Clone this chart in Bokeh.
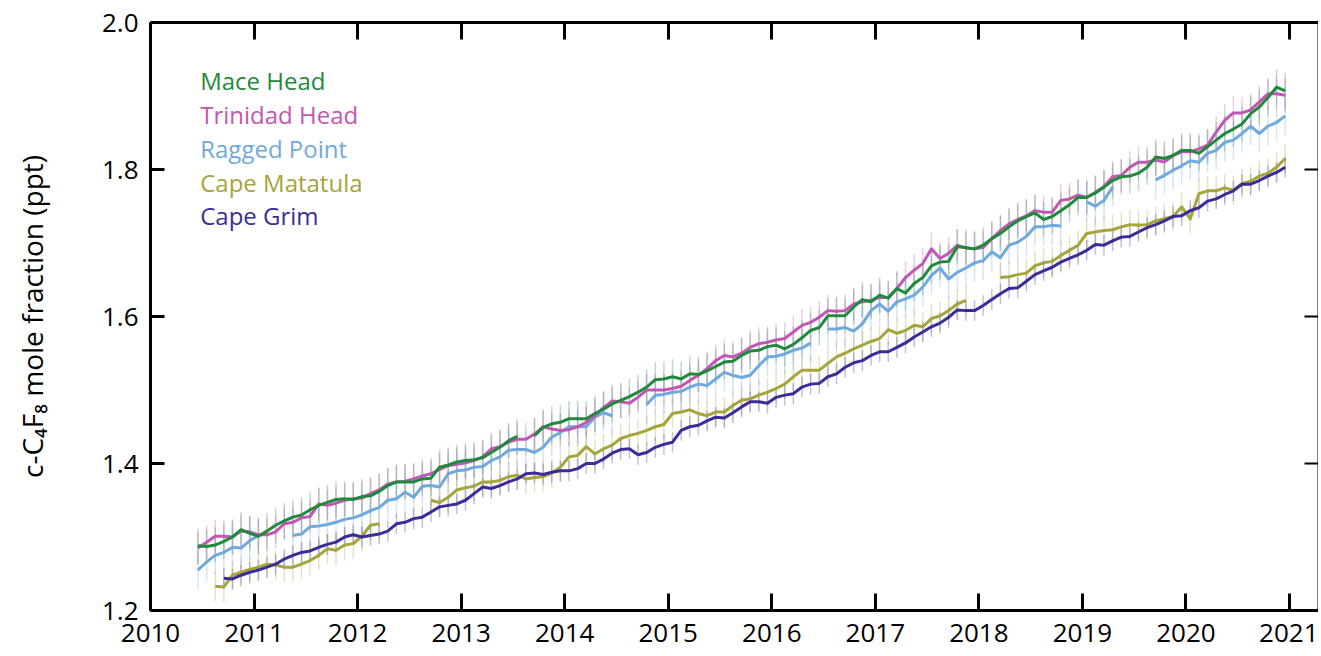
import math
from bokeh.plotting import figure
from bokeh.models import (LinearAxis, FixedTicker, NumeralTickFormatter, Range1d,
                          Label, ColumnDataSource)
from bokeh.embed import file_html
from bokeh.resources import INLINE

NaN = float("nan")

# monthly time axis: Jun 2010 .. Dec 2020 (decimal years, mid-month)
MONTHS = [2010 + (m + 0.5) / 12 for m in range(5, 132)]

MACE_HEAD = [
    1.288, 1.287, 1.289, 1.294, 1.300, 1.310, 1.305, 1.301, 1.308, 1.316,
    1.322, 1.327, 1.330, 1.337, 1.343, 1.347, 1.351, 1.352, 1.351, 1.355,
    1.356, 1.362, 1.370, 1.375, 1.375, 1.375, 1.379, 1.380, 1.395, 1.398,
    1.402, 1.404, 1.405, 1.408, 1.415, 1.422, 1.431, 1.437, NaN, 1.438,
    1.449, 1.454, 1.456, 1.461, 1.461, 1.461, 1.468, 1.474, 1.481, 1.486,
    1.491, 1.497, 1.504, 1.514, 1.515, 1.518, 1.515, 1.522, 1.521, 1.526,
    1.532, 1.538, 1.539, 1.547, 1.553, 1.554, 1.559, 1.561, 1.556, 1.562,
    1.571, 1.581, 1.585, 1.601, 1.601, 1.601, 1.613, 1.623, 1.620, 1.629,
    1.625, 1.638, 1.632, 1.645, 1.653, 1.669, 1.674, 1.675, 1.695, 1.694,
    1.692, 1.697, 1.706, 1.713, 1.722, 1.730, 1.736, 1.741, 1.732, 1.736,
    1.744, 1.752, 1.762, 1.762, 1.768, 1.776, 1.785, 1.790, 1.791, 1.795,
    1.803, 1.817, 1.815, 1.819, 1.826, 1.826, 1.822, 1.831, 1.840, 1.849,
    1.855, 1.862, 1.876, 1.885, 1.898, 1.912, 1.907,
]

TRINIDAD_HEAD = [
    1.285, 1.293, 1.301, 1.301, 1.300, 1.308, 1.307, 1.303, 1.303, 1.307,
    1.318, 1.320, 1.326, 1.328, 1.345, 1.343, 1.346, 1.350, 1.352, 1.353,
    1.359, 1.364, 1.372, 1.375, 1.376, 1.379, 1.383, 1.386, 1.392, 1.397,
    1.399, 1.401, 1.404, 1.409, 1.420, 1.423, 1.429, 1.433, 1.433, 1.440,
    1.450, 1.447, 1.445, 1.446, 1.450, 1.456, 1.465, 1.476, 1.485, 1.484,
    1.482, 1.490, 1.500, 1.500, 1.500, 1.502, 1.505, 1.513, 1.520, 1.529,
    1.540, 1.547, 1.545, 1.550, 1.558, 1.563, 1.565, 1.568, 1.570, 1.579,
    1.588, 1.592, 1.599, 1.608, 1.607, 1.608, 1.617, 1.620, 1.622, 1.626,
    1.626, 1.638, 1.653, 1.663, 1.672, 1.692, 1.679, 1.686, 1.697, 1.693,
    1.692, 1.694, 1.706, 1.717, 1.726, 1.732, 1.737, 1.744, 1.742, 1.742,
    1.758, 1.760, 1.765, 1.762, 1.769, 1.777, 1.790, 1.792, 1.803, 1.810,
    1.810, 1.813, 1.810, 1.819, 1.824, 1.824, 1.828, 1.833, 1.851, 1.867,
    1.877, 1.877, 1.881, 1.892, 1.903, 1.903, 1.901,
]

RAGGED_POINT = [
    1.255, 1.266, 1.275, 1.279, 1.286, 1.285, 1.295, 1.302, NaN, NaN,
    NaN, 1.302, 1.304, 1.314, 1.315, 1.317, 1.320, 1.324, 1.326, 1.330,
    1.336, 1.340, 1.350, 1.352, 1.361, 1.354, 1.369, 1.370, 1.368, 1.386,
    1.390, 1.391, 1.395, 1.396, 1.404, 1.409, 1.418, 1.419, 1.419, 1.415,
    1.422, 1.436, 1.442, 1.450, 1.450, 1.450, 1.463, 1.469, 1.465, NaN,
    NaN, NaN, 1.480, 1.493, 1.494, 1.497, 1.498, 1.504, 1.508, 1.506,
    1.515, 1.524, 1.520, 1.517, 1.520, 1.533, 1.545, 1.546, 1.549, 1.554,
    1.557, 1.564, NaN, 1.583, 1.583, 1.585, 1.580, 1.590, 1.608, 1.617,
    1.607, 1.620, 1.624, 1.629, 1.640, 1.656, 1.666, 1.651, 1.660, 1.666,
    1.673, 1.676, 1.688, 1.680, 1.697, 1.701, 1.709, 1.722, 1.722, 1.724,
    1.723, NaN, NaN, 1.756, 1.750, 1.758, 1.776, NaN, NaN, NaN,
    NaN, 1.786, 1.792, 1.799, 1.805, 1.812, 1.810, 1.822, 1.826, 1.837,
    1.840, 1.849, 1.859, 1.849, 1.859, 1.864, 1.873,
]

CAPE_MATATULA = [
    NaN, NaN, 1.233, 1.232, 1.248, 1.252, 1.256, 1.259, 1.263, 1.262,
    1.259, 1.259, 1.263, 1.268, 1.275, 1.284, 1.282, 1.289, 1.291, 1.301,
    1.316, 1.318, NaN, NaN, NaN, NaN, NaN, 1.350, 1.347, 1.354,
    1.364, 1.367, 1.369, 1.375, 1.375, 1.377, 1.382, 1.384, 1.379, 1.381,
    1.382, 1.387, 1.395, 1.409, 1.411, 1.423, 1.413, 1.420, 1.425, 1.434,
    1.438, 1.441, 1.445, 1.450, 1.453, 1.468, 1.470, 1.473, 1.468, 1.465,
    1.470, 1.470, 1.479, 1.486, 1.488, 1.493, 1.497, 1.502, 1.508, 1.518,
    1.527, 1.527, 1.527, 1.536, 1.545, 1.550, 1.556, 1.561, 1.566, 1.570,
    1.582, 1.577, 1.581, 1.588, 1.586, 1.597, 1.601, 1.608, 1.617, 1.622,
    NaN, NaN, NaN, 1.653, 1.654, 1.657, 1.659, 1.669, 1.673, 1.675,
    1.683, 1.690, 1.697, 1.713, 1.715, 1.717, 1.718, 1.722, 1.725, 1.724,
    1.725, 1.730, 1.733, 1.736, 1.749, 1.733, 1.767, 1.771, 1.771, 1.775,
    1.772, 1.781, 1.784, 1.791, 1.795, 1.803, 1.815,
]

CAPE_GRIM = [
    NaN, NaN, NaN, 1.244, 1.243, 1.248, 1.252, 1.255, 1.259, 1.263,
    1.270, 1.275, 1.279, 1.281, 1.286, 1.290, 1.293, 1.300, 1.303, 1.300,
    1.302, 1.304, 1.308, 1.318, 1.320, 1.325, 1.327, 1.334, 1.341, 1.343,
    1.345, 1.350, 1.359, 1.368, 1.366, 1.370, 1.375, 1.379, 1.386, 1.387,
    1.385, 1.388, 1.390, 1.390, 1.393, 1.400, 1.400, 1.406, 1.414, 1.419,
    1.420, 1.412, 1.415, 1.422, 1.426, 1.429, 1.445, 1.450, 1.452, 1.458,
    1.463, 1.462, 1.469, 1.477, 1.484, 1.484, 1.482, 1.490, 1.493, 1.495,
    1.504, 1.508, 1.509, 1.518, 1.522, 1.531, 1.537, 1.540, 1.547, 1.552,
    1.552, 1.558, 1.564, 1.572, 1.579, 1.586, 1.591, 1.599, 1.609, 1.608,
    1.608, 1.615, 1.623, 1.631, 1.638, 1.639, 1.648, 1.657, 1.662, 1.667,
    1.674, 1.679, 1.684, 1.690, 1.698, 1.697, 1.703, 1.708, 1.709, 1.715,
    1.721, 1.725, 1.730, 1.736, 1.737, 1.744, 1.748, 1.757, 1.760, 1.766,
    1.771, 1.780, 1.780, 1.785, 1.791, 1.796, 1.803,
]

STATIONS = ["Mace Head", "Trinidad Head", "Ragged Point", "Cape Matatula", "Cape Grim"]
SERIES = {
    "Mace Head": MACE_HEAD,
    "Trinidad Head": TRINIDAD_HEAD,
    "Ragged Point": RAGGED_POINT,
    "Cape Matatula": CAPE_MATATULA,
    "Cape Grim": CAPE_GRIM,
}
# typical half-length of the monthly uncertainty bars (ppt)
UNCERTAINTY = {
    "Mace Head": 0.024,
    "Trinidad Head": 0.022,
    "Ragged Point": 0.026,
    "Cape Matatula": 0.020,
    "Cape Grim": 0.014,
}
COLORS = {
    "Mace Head": "#1f8a3c",
    "Trinidad Head": "#c257b3",
    "Ragged Point": "#72a9dd",
    "Cape Matatula": "#a6a43a",
    "Cape Grim": "#3b2c97",
}
X_TICKS = list(range(2010, 2022))
Y_TICKS = [1.2, 1.4, 1.6, 1.8, 2.0]
Y_LABEL = "c-C\u2084F\u2088 mole fraction (ppt)"

FONT = "Open Sans"

p = figure(frame_width=1168, frame_height=588,
           x_range=Range1d(2010, 2021.28), y_range=Range1d(1.2, 2.0),
           output_backend="svg", toolbar_location=None,
           x_axis_location=None, y_axis_location=None,
           min_border_left=150, min_border_top=22, min_border_bottom=44,
           min_border_right=0, outline_line_color=None,
           background_fill_color="white", border_fill_color="white")
p.xgrid.visible = False
p.ygrid.visible = False


def style_axis(ax, tick_len, lw=3, labels=True):
    ax.axis_line_width = lw
    ax.axis_line_color = "black"
    ax.major_tick_in = tick_len
    ax.major_tick_out = 0
    ax.major_tick_line_width = lw
    ax.major_tick_line_color = "black"
    ax.minor_tick_line_color = None
    if labels:
        ax.major_label_text_font = FONT
        ax.major_label_text_font_size = "26px"
        ax.major_label_text_color = "black"
    else:
        ax.major_label_text_color = None
        ax.major_label_standoff = 0


bottom = LinearAxis(ticker=FixedTicker(ticks=X_TICKS), formatter=NumeralTickFormatter(format="0"))
style_axis(bottom, 17)
bottom.major_label_standoff = 13
top = LinearAxis(ticker=FixedTicker(ticks=X_TICKS))
style_axis(top, 17, labels=False)
left = LinearAxis(ticker=FixedTicker(ticks=Y_TICKS), formatter=NumeralTickFormatter(format="0.0"))
style_axis(left, 14)
left.major_label_standoff = 12
left.axis_label = Y_LABEL
left.axis_label_text_font = FONT
left.axis_label_text_font_style = "normal"
left.axis_label_text_font_size = "28px"
left.axis_label_text_color = "black"
left.axis_label_standoff = 48
right = LinearAxis(ticker=FixedTicker(ticks=Y_TICKS))
style_axis(right, 14, lw=2, labels=False)

p.add_layout(bottom, "below")
p.add_layout(top, "above")
p.add_layout(left, "left")
p.add_layout(right, "right")

# uncertainty bars
for name in STATIONS:
    vals = SERIES[name]
    u = UNCERTAINTY[name]
    xs = [t for t, v in zip(MONTHS, vals) if not math.isnan(v)]
    lo = [v - u for v in vals if not math.isnan(v)]
    hi = [v + u for v in vals if not math.isnan(v)]
    src = ColumnDataSource(dict(x=xs, y0=lo, y1=hi))
    p.segment(x0="x", y0="y0", x1="x", y1="y1", source=src,
              line_color=COLORS[name], line_alpha=0.3, line_width=1.5)

# lines (drawing order so Mace Head lies above Trinidad Head, Cape Grim above Cape Matatula)
for name in ["Ragged Point", "Trinidad Head", "Mace Head", "Cape Matatula", "Cape Grim"]:
    src = ColumnDataSource(dict(x=MONTHS, y=SERIES[name]))
    p.line("x", "y", source=src, line_color=COLORS[name], line_width=3,
           line_join="round")

# legend as coloured text
leg_y = [1.921, 1.875, 1.829, 1.782, 1.737]
for name, yy in zip(STATIONS, leg_y):
    p.add_layout(Label(x=2010.48, y=yy, text=name, text_color=COLORS[name],
                       text_font=FONT, text_font_size="24px",
                       text_baseline="middle", text_align="left"))

open("out.html", "w").write(file_html(p, INLINE))
